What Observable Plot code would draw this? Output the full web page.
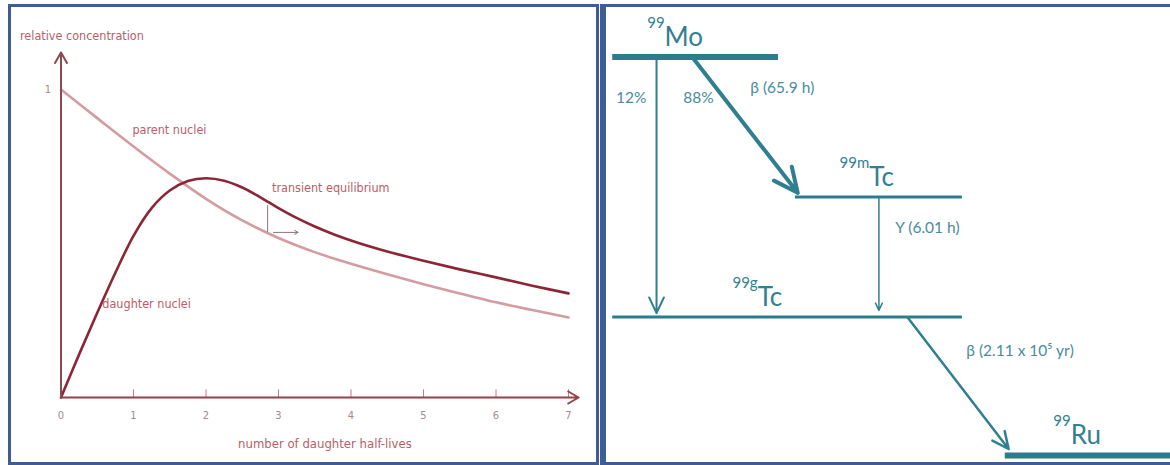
<!DOCTYPE html>
<html><head><meta charset="utf-8">
<script src="https://cdn.jsdelivr.net/npm/d3@7"></script>
<script src="https://cdn.jsdelivr.net/npm/@observablehq/plot@0.6"></script>
<style>
html,body{margin:0;padding:0;background:#fff;}
body{width:1170px;height:465px;overflow:hidden;position:relative;}
.panel{position:absolute;box-sizing:content-box;border:3px solid #3e5c95;background:#fff;overflow:hidden;}
#left{left:8px;top:4px;width:585px;height:455px;}
#right{left:600px;top:4px;width:580px;height:455px;border-left-width:6px;}
.panel svg{display:block;overflow:visible;}
</style></head><body>
<div id="left" class="panel"></div>
<div id="right" class="panel"></div>
<script>
// ---------- Left panel: transient equilibrium ----------
const xTicks = [0, 1, 2, 3, 4, 5, 6, 7];
const yTicks = [1];
const parentT = [0, 0.5, 1, 1.5, 2, 2.5, 3, 3.5, 4, 4.5, 5, 5.5, 6, 6.5, 7];
const parentV = [1.0, 0.907, 0.815, 0.727, 0.645, 0.575, 0.518, 0.472, 0.434, 0.400, 0.368, 0.338, 0.309, 0.284, 0.260];
const daughterT = [0, 0.25, 0.5, 0.75, 1.0, 1.25, 1.5, 1.75, 2.0, 2.25, 2.5, 2.75, 3.0, 3.25, 3.5, 3.75, 4.0, 4.25, 4.5, 5.0, 5.5, 6.0, 6.5, 7.0];
const daughterV = [0, 0.14, 0.275, 0.405, 0.525, 0.615, 0.672, 0.703, 0.712, 0.704, 0.682, 0.650, 0.615, 0.583, 0.555, 0.531, 0.510, 0.491, 0.474, 0.444, 0.416, 0.390, 0.363, 0.338];
const curveLabels = ["parent nuclei", "daughter nuclei", "transient equilibrium"];
const curveLabelT = [0.985, 0.57, 2.91];
const curveLabelV = [0.867, 0.305, 0.679];
const equilT = 2.85;          // start of transient equilibrium marker
const equilV = [0.623, 0.536];
const xTitle = "number of daughter half-lives";
const yTitle = "relative concentration";
const xMax = 7.14, yMax = 1.12;

const parent = parentT.map((t, i) => ({t, v: parentV[i]}));
const daughter = daughterT.map((t, i) => ({t, v: daughterV[i]}));
const cLabels = curveLabels.map((s, i) => ({s, t: curveLabelT[i], v: curveLabelV[i]}));

const narrow = "'Liberation Sans Narrow', 'DejaVu Sans Condensed', 'Arial Narrow', Lato, sans-serif";
const axisCol = "#96404a";
const textCol = "#bd5c66";

const left = Plot.plot({
  width: 585, height: 455,
  x: {domain: [0, 7], range: [49.5, 557], axis: null},
  y: {domain: [0, 1], range: [390, 82], axis: null},
  style: {fontFamily: narrow, background: "transparent", overflow: "visible"},
  marks: [
    Plot.ruleX(xTicks.filter(d => d > 0), {x: d => d, y1: 0, y2: 0.025, stroke: "#c77a84", strokeWidth: 1}),
    Plot.text(xTicks, {x: d => d, y: 0, dy: 18, text: d => String(d), fill: "#a88890", fontSize: 11}),
    Plot.text(yTicks, {x: 0, y: d => d, dx: -13, text: d => String(d), fill: "#a88890", fontSize: 11}),
    Plot.line(parent, {x: "t", y: "v", stroke: "#d49ba1", strokeWidth: 2.6, curve: "catmull-rom"}),
    Plot.line(daughter, {x: "t", y: "v", stroke: "#8c2636", strokeWidth: 2.6, curve: "catmull-rom"}),
    Plot.arrow([0], {x1: 0, y1: 0, x2: 0, y2: yMax, stroke: "#8a4a4e", strokeWidth: 2, headLength: 9}),
    Plot.arrow([0], {x1: 0, y1: 0, x2: xMax, y2: 0, stroke: axisCol, strokeWidth: 2, headLength: 9}),
    Plot.ruleX([equilT], {x: d => d, y1: equilV[0], y2: equilV[1], stroke: "#8e7478", strokeWidth: 1}),
    Plot.arrow([0], {x1: equilT + 0.08, y1: equilV[1], x2: equilT + 0.42, y2: equilV[1], stroke: "#8e7478", strokeWidth: 1, headLength: 6}),
    Plot.text(cLabels, {x: "t", y: "v", text: "s", textAnchor: "start", fill: textCol, fontSize: 12.5}),
    Plot.text([yTitle], {x: 0, y: yMax, dx: -41, dy: -17, text: d => d, textAnchor: "start", fill: textCol, fontSize: 12.5}),
    Plot.text([xTitle], {x: 3.64, y: 0, dy: 46, text: d => d, fill: textCol, fontSize: 13})
  ]
});
document.getElementById("left").appendChild(left);

// ---------- Right panel: 99Mo decay scheme ----------
const nuclideMass = ["99", "99m", "99g", "99"];
const nuclideSym = ["Mo", "Tc", "Tc", "Ru"];
const levelY = [0, 1.0, 1.857, 2.846];          // level depth (ordered top to bottom)
const levelX1 = [1.1, 33.5, 1.1, 70.7];
const levelX2 = [30.5, 63.1, 63.1, 100];
const levelW = [6, 3, 3, 6];
const labelX = [10.3, 46.6, 26.8, 82.3];

const transFromX = [8.87, 15.4, 48.3, 53.4];
const transToX = [8.87, 33.9, 48.3, 71.3];
const transFromY = [0.02, 0.01, 1.01, 1.86];
const transToY = [1.83, 0.97, 1.81, 2.80];
const transW = [2, 4, 1.5, 2.5];
const transHead = [13, 10, 8, 11];

const branchText = ["12%", "88%", "β (65.9 h)", "Y (6.01 h)", "β (2.11 x 10⁵ yr)"];
const branchX = [4.4, 16.3, 25.5, 51.2, 63.8];
const branchY = [0.29, 0.29, 0.22, 1.22, 2.1];
const branchAnchor = ["middle", "middle", "start", "start", "start"];

const levels = nuclideSym.map((s, i) => ({sym: s, mass: nuclideMass[i], y: levelY[i], x1: levelX1[i], x2: levelX2[i], w: levelW[i], lx: labelX[i]}));
const trans = transFromX.map((x, i) => ({x1: x, y1: transFromY[i], x2: transToX[i], y2: transToY[i], w: transW[i], h: transHead[i]}));
const branches = branchText.map((s, i) => ({s, x: branchX[i], y: branchY[i], a: branchAnchor[i]}));

const teal = "#2c7c8e";
const lab = "Lato, 'Open Sans', sans-serif";

const right = Plot.plot({
  width: 564, height: 455,
  x: {domain: [0, 100], range: [0, 564], axis: null},
  y: {domain: [0, 3], range: [49.5, 469.5], axis: null},
  style: {fontFamily: lab, background: "transparent", overflow: "visible"},
  marks: [
    ...levels.map(d => Plot.ruleY([d], {y: "y", x1: "x1", x2: "x2", stroke: teal, strokeWidth: d.w})),
    ...trans.map(d => Plot.arrow([d], {x1: "x1", y1: "y1", x2: "x2", y2: "y2", stroke: "#2f7f90", strokeWidth: d.w, headLength: d.h, headAngle: 50})),
    Plot.text(levels, {x: "lx", y: "y", text: "sym", textAnchor: "start", lineAnchor: "bottom", dy: -11, fontSize: 26, fill: "#327f91"}),
    Plot.text(levels, {x: "lx", y: "y", text: "mass", textAnchor: "end", lineAnchor: "bottom", dy: -29, fontSize: 15, fill: "#327f91"}),
    ...branches.map(d => Plot.text([d], {x: "x", y: "y", text: "s", textAnchor: d.a, fontSize: 15.5, fill: "#4a8c9c"}))
  ]
});
document.getElementById("right").appendChild(right);
</script>
</body></html>
